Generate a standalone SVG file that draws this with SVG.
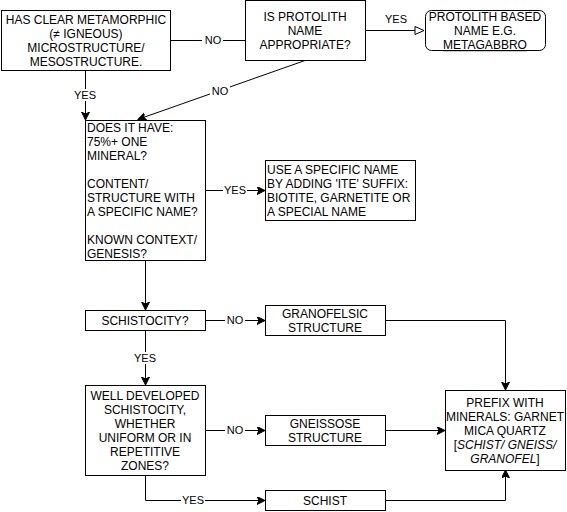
<svg xmlns="http://www.w3.org/2000/svg" width="567" height="512" viewBox="0 0 567 512">
<defs>
<style>
.box{fill:#fff;stroke:#000;stroke-width:1}
.t{font-family:"Liberation Sans",Arial,sans-serif;font-size:12px;fill:#000}
.c{text-anchor:middle}
.lbl{font-family:"Liberation Sans",Arial,sans-serif;font-size:11px;fill:#000;text-anchor:middle}
.e{fill:none;stroke:#000;stroke-width:1}
.bg{fill:#fff}
</style>
<marker id="arr" markerWidth="10" markerHeight="10" refX="7" refY="4" orient="auto" markerUnits="userSpaceOnUse">
<path d="M0,0 L8,4 L0,8 L2,4 Z" fill="#000" stroke="#000" stroke-width="1"/>
</marker>
<marker id="open" markerWidth="12" markerHeight="12" refX="10" refY="5" orient="auto" markerUnits="userSpaceOnUse">
<path d="M1,1 L10,5 L1,9 Z" fill="#fff" stroke="#000" stroke-width="1"/>
</marker>
</defs>
<rect width="567" height="512" fill="#fff"/>
<g id="connectors">
<path class="e" d="M170.5,40.5 H245"/>
<rect class="bg" x="202" y="34" width="21" height="12"/>
<text class="lbl" x="213" y="44">NO</text>
<path class="e" d="M365.5,30.5 H424" marker-end="url(#open)"/>
<text class="lbl" x="396" y="23">YES</text>
<path class="e" d="M305,60.5 L139,119" marker-end="url(#arr)"/>
<rect class="bg" x="210" y="85" width="20" height="12"/>
<text class="lbl" x="220" y="95">NO</text>
<path class="e" d="M85.5,70.5 V119" marker-end="url(#arr)"/>
<rect class="bg" x="73" y="89" width="24" height="12"/>
<text class="lbl" x="85" y="99">YES</text>
<path class="e" d="M205.5,190.5 H264" marker-end="url(#arr)"/>
<rect class="bg" x="223" y="184" width="24" height="12"/>
<text class="lbl" x="235" y="194">YES</text>
<path class="e" d="M145.5,260.5 V309" marker-end="url(#arr)"/>
<path class="e" d="M205.5,320.5 H264" marker-end="url(#arr)"/>
<rect class="bg" x="225" y="314" width="20" height="12"/>
<text class="lbl" x="235" y="324">NO</text>
<path class="e" d="M145.5,330.5 V384" marker-end="url(#arr)"/>
<rect class="bg" x="133" y="352" width="24" height="12"/>
<text class="lbl" x="145" y="362">YES</text>
<path class="e" d="M205.5,430.5 H264" marker-end="url(#arr)"/>
<rect class="bg" x="225" y="424" width="20" height="12"/>
<text class="lbl" x="235" y="434">NO</text>
<path class="e" d="M145.5,475.5 V500.5 H264" marker-end="url(#arr)"/>
<rect class="bg" x="181" y="494" width="24" height="12"/>
<text class="lbl" x="193" y="504">YES</text>
<path class="e" d="M385.5,320.5 H505.5 V389" marker-end="url(#arr)"/>
<path class="e" d="M385.5,430.5 H444" marker-end="url(#arr)"/>
<path class="e" d="M385.5,500.5 H505.5 V471" marker-end="url(#arr)"/>
</g>
<g id="metamorphic">
<rect class="box" x="1.5" y="10.5" width="169" height="60"/>
<text class="t c" x="86" y="24">HAS CLEAR METAMORPHIC</text>
<text class="t c" x="86" y="38">(≠ IGNEOUS)</text>
<text class="t c" x="86" y="52">MICROSTRUCTURE/</text>
<text class="t c" x="86" y="66">MESOSTRUCTURE.</text>
</g>
<g id="protolith">
<rect class="box" x="245.5" y="0.5" width="120" height="60"/>
<text class="t c" x="305" y="21">IS PROTOLITH</text>
<text class="t c" x="305" y="35">NAME</text>
<text class="t c" x="305" y="49">APPROPRIATE?</text>
</g>
<g id="protolith-name">
<rect class="box" x="425.5" y="10.5" width="120" height="40" rx="6" ry="6"/>
<text class="t c" x="485" y="21">PROTOLITH BASED</text>
<text class="t c" x="485" y="35">NAME E.G.</text>
<text class="t c" x="485" y="49" text-decoration="underline">METAGABBRO</text>
</g>
<g id="does-it-have">
<rect class="box" x="85.5" y="120.5" width="120" height="140"/>
<text class="t" x="87" y="132">DOES IT HAVE:</text>
<text class="t" x="87" y="146">75%+ ONE</text>
<text class="t" x="87" y="160">MINERAL?</text>
<text class="t" x="87" y="188">CONTENT/</text>
<text class="t" x="87" y="202">STRUCTURE WITH</text>
<text class="t" x="87" y="216">A SPECIFIC NAME?</text>
<text class="t" x="87" y="244">KNOWN CONTEXT/</text>
<text class="t" x="87" y="258">GENESIS?</text>
</g>
<g id="specific-name">
<rect class="box" x="265.5" y="160.5" width="150" height="60"/>
<text class="t" x="267" y="174">USE A SPECIFIC NAME</text>
<text class="t" x="267" y="188">BY ADDING 'ITE' SUFFIX:</text>
<text class="t" x="267" y="202">BIOTITE, GARNETITE OR</text>
<text class="t" x="267" y="216">A SPECIAL NAME</text>
</g>
<g id="schistocity">
<rect class="box" x="85.5" y="310.5" width="120" height="20"/>
<text class="t c" x="145" y="325">SCHISTOCITY?</text>
</g>
<g id="granofelsic">
<rect class="box" x="265.5" y="305.5" width="120" height="30"/>
<text class="t c" x="325" y="318">GRANOFELSIC</text>
<text class="t c" x="325" y="332">STRUCTURE</text>
</g>
<g id="well-developed">
<rect class="box" x="85.5" y="385.5" width="120" height="90"/>
<text class="t c" x="145" y="400">WELL DEVELOPED</text>
<text class="t c" x="145" y="414">SCHISTOCITY,</text>
<text class="t c" x="145" y="428">WHETHER</text>
<text class="t c" x="145" y="442">UNIFORM OR IN</text>
<text class="t c" x="145" y="456">REPETITIVE</text>
<text class="t c" x="145" y="470">ZONES?</text>
</g>
<g id="gneissose">
<rect class="box" x="265.5" y="415.5" width="120" height="30"/>
<text class="t c" x="325" y="428">GNEISSOSE</text>
<text class="t c" x="325" y="442">STRUCTURE</text>
</g>
<g id="schist">
<rect class="box" x="265.5" y="490.5" width="120" height="20"/>
<text class="t c" x="325" y="505">SCHIST</text>
</g>
<g id="prefix">
<rect class="box" x="445.5" y="390.5" width="120" height="80"/>
<text class="t c" x="505" y="407">PREFIX WITH</text>
<text class="t c" x="505" y="421">MINERALS: GARNET</text>
<text class="t c" x="505" y="435">MICA QUARTZ</text>
<text class="t c" x="505" y="449">[<tspan font-style="italic">SCHIST/ GNEISS/</tspan></text>
<text class="t c" x="505" y="463"><tspan font-style="italic">GRANOFEL</tspan>]</text>
</g>
</svg>
